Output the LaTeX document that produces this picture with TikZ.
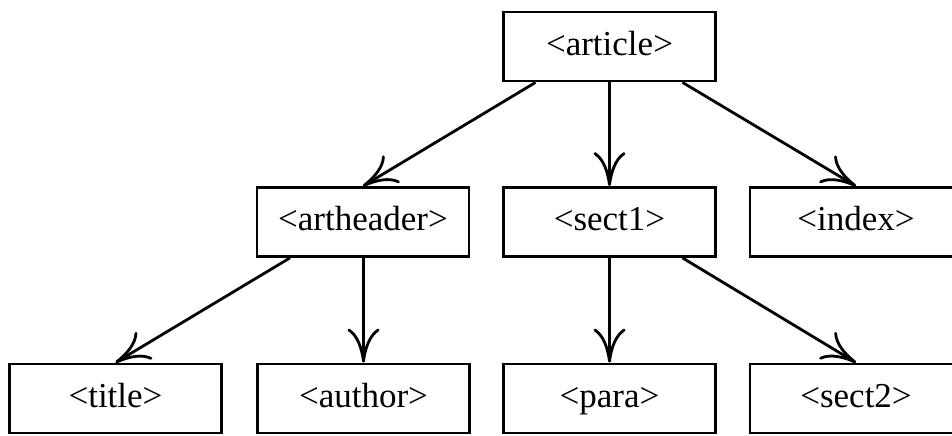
\documentclass[tikz,border=0pt]{standalone}
\usepackage{fontspec}
\setmainfont{Liberation Serif}
\usetikzlibrary{arrows.meta}
\begin{document}
\begin{tikzpicture}[x=0.5pt,y=-0.5pt,
  box/.style={draw,line width=1.4pt,minimum width=106pt,minimum height=34.5pt,inner sep=0pt,
    text height=12pt,text depth=3.5pt,
    font=\fontsize{17.5}{20}\selectfont},
  link/.style={line width=1.4pt,-{To[length=17pt,width=16pt]}}]
\useasboundingbox (0,0) rectangle (952,435);
\node[box] (article)   at (609.5,46.5) {<article>};
\node[box] (artheader) at (363,222)    {<artheader>};
\node[box] (sect1)     at (609.5,222)  {<sect1>};
\node[box] (index)     at (856,222)    {<index>};
\node[box] (title)     at (115.5,398.5) {<title>};
\node[box] (author)    at (363.5,398.5) {<author>};
\node[box] (para)      at (609.5,398.5) {<para>};
\node[box] (sect2)     at (856,398.5)   {<sect2>};
\draw[link] ([xshift=-37pt]article.south) -- (artheader.north);
\draw[link] (article.south) -- (sect1.north);
\draw[link] ([xshift=36.5pt]article.south) -- (index.north);
\draw[link] ([xshift=-36.5pt]artheader.south) -- (title.north);
\draw[link] (artheader.south -| author.north) -- (author.north);
\draw[link] (sect1.south) -- (para.north);
\draw[link] ([xshift=36.5pt]sect1.south) -- (sect2.north);
\end{tikzpicture}
\end{document}
